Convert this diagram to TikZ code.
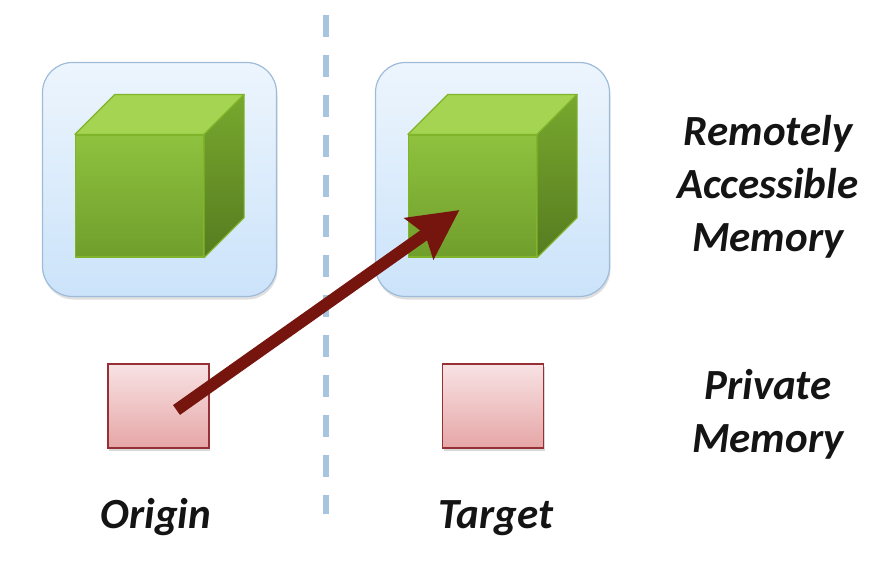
\documentclass[tikz,border=0pt]{standalone}
\usepackage{fontspec}
\setmainfont{Carlito}
\usetikzlibrary{arrows.meta,shadows,calc}

\definecolor{boxtop}{RGB}{237,245,253}
\definecolor{boxbot}{RGB}{203,227,250}
\definecolor{boxline}{RGB}{158,188,218}
\definecolor{cubetop}{RGB}{142,194,62}
\definecolor{cubebot}{RGB}{112,158,44}
\definecolor{cubelid}{RGB}{165,212,82}
\definecolor{cubesidetop}{RGB}{120,168,46}
\definecolor{cubesidebot}{RGB}{86,124,32}
\definecolor{cubeedge}{RGB}{128,180,42}
\definecolor{privtop}{RGB}{248,226,228}
\definecolor{privbot}{RGB}{230,166,166}
\definecolor{privline}{RGB}{150,48,52}
\definecolor{putcol}{RGB}{117,21,14}
\definecolor{dashcol}{RGB}{168,197,224}
\definecolor{txt}{RGB}{20,20,20}

\begin{document}
\begin{tikzpicture}[x=1pt,y=1pt,yscale=-1,xscale=1,
	membox/.style={draw=boxline,line width=1.2pt,rounded corners=30pt,minimum width=234pt,minimum height=234pt,
		top color=boxtop,bottom color=boxbot,drop shadow={opacity=0.25,shadow xshift=1pt,shadow yshift=-3pt}},
	cubefront/.style={draw=cubeedge,line width=1.2pt,minimum width=128pt,minimum height=122pt,inner sep=0pt,
		top color=cubetop,bottom color=cubebot},
	cubeface/.style={draw=cubeedge,line width=1.2pt,line join=round},
	privbox/.style={draw=privline,line width=1.5pt,minimum width=101pt,minimum height=84pt,inner sep=0pt,
		top color=privtop,bottom color=privbot,drop shadow={opacity=0.3,shadow xshift=1pt,shadow yshift=-3pt}},
	divider/.style={draw=dashcol,line width=6pt,dash pattern=on 22pt off 18pt},
	putarrow/.style={draw=putcol,line width=12pt,-{Stealth[length=49pt,width=49pt,inset=7pt,fill=putcol]}},
	lbl/.style={font=\fontsize{43}{53}\selectfont\bfseries\itshape,text=txt,align=center,inner sep=0pt}
	]
	\useasboundingbox (0,0) rectangle (884,562);

	% divider between the two processes
	\coordinate (divtop) at (326,15);
	\coordinate (divbot) at (326,514);
	\draw [divider] (divtop) -- (divbot);

	% remotely accessible memory
	\node [membox] (ramL) at (159.5,179.5) {};
	\node [membox] (ramR) at (492.5,179.5) {};

	% cubes
	\foreach \side in {L,R} {
		\node [cubefront] (cube\side) at ($(ram\side.center)+(-20,16.5)$) {};
		\fill [cubeface,fill=cubelid] (cube\side.north west) -- (cube\side.north east) -- ++(40,-40) -- ($(cube\side.north west)+(40,-40)$) -- cycle;
		\shade [cubeface,top color=cubesidetop,bottom color=cubesidebot] (cube\side.north east) -- ++(40,-40) -- ($(cube\side.south east)+(40,-40)$) -- (cube\side.south east) -- cycle;
	}

	% private memory
	\node [privbox] (orig) at (158.5,406) {};
	\node [privbox] (targ) at (493,406) {};

	% put
	\coordinate (putsrc) at ($(orig.center)+(18,4)$);
	\coordinate (putdst) at ($(cubeR.center)+(-13,14)$);
	\draw [putarrow] (putsrc) -- (putdst);

	% labels
	\node [lbl] (ramlbl) at (768,187) {Remotely\\Accessible\\Memory};
	\node [lbl] (privlbl) at (768,414) {Private\\Memory};
	\node [lbl,anchor=base] (origlbl) at (156,528) {Origin};
	\node [lbl,anchor=base] (targlbl) at (496,528) {Target};
\end{tikzpicture}
\end{document}
